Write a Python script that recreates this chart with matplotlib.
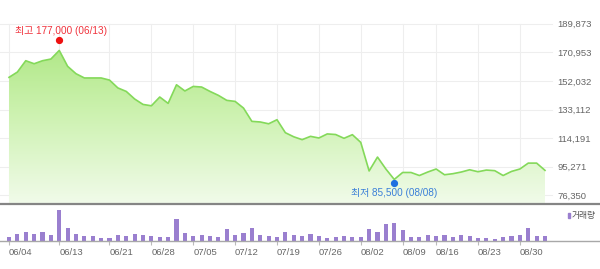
import matplotlib
matplotlib.use("Agg")
import matplotlib.pyplot as plt
import numpy as np
from matplotlib.patches import Polygon, Rectangle
from matplotlib.colors import LinearSegmentedColormap
from matplotlib.transforms import offset_copy

plt.rcParams['font.family'] = ['Liberation Sans', 'Noto Sans CJK KR']

# ---------------- data ----------------
dates = ['06/04', '06/05', '06/07', '06/10', '06/11', '06/12', '06/13', '06/14',
         '06/17', '06/18', '06/19', '06/20', '06/21', '06/24', '06/25', '06/26',
         '06/27', '06/28', '07/01', '07/02', '07/03', '07/04', '07/05', '07/08',
         '07/09', '07/10', '07/11', '07/12', '07/15', '07/16', '07/17', '07/18',
         '07/19', '07/22', '07/23', '07/24', '07/25', '07/26', '07/29', '07/30',
         '07/31', '08/01', '08/02', '08/05', '08/06', '08/07', '08/08', '08/09',
         '08/12', '08/13', '08/14', '08/16', '08/19', '08/20', '08/21', '08/22',
         '08/23', '08/26', '08/27', '08/28', '08/29', '08/30', '09/02', '09/03',
         '09/04']

close = [154400, 157900, 165400, 163400, 165400, 166500, 172200, 161700,
         156800, 154000, 154000, 154000, 152600, 147400, 145100, 140100,
         136500, 135600, 141400, 137200, 149500, 145400, 148400, 148000,
         145100, 142500, 139200, 138500, 134100, 125300, 124900, 123700,
         126400, 117800, 115100, 113200, 115400, 114300, 117000, 116600,
         114100, 116500, 111400, 92500, 101700, 93800, 86900, 91500,
         91500, 89500, 91800, 93800, 90000, 90700, 91800, 93300,
         92000, 93100, 92700, 89500, 92200, 93800, 97700, 97700,
         92900]

volume = [47, 73, 90, 73, 90, 67, 313, 133,
          73, 57, 57, 37, 37, 63, 57, 73,
          67, 57, 47, 47, 220, 80, 55, 63,
          53, 47, 123, 67, 80, 133, 67, 53,
          47, 90, 67, 53, 70, 52, 30, 48,
          52, 45, 45, 122, 97, 175, 185, 113,
          40, 40, 60, 50, 60, 40, 60, 50,
          33, 33, 23, 43, 53, 60, 137, 53,
          53]

tick_dates = ['06/04', '06/13', '06/21', '06/28', '07/05', '07/12', '07/19',
              '07/26', '08/02', '08/09', '08/16', '08/23', '08/30']
price_ticks = [76350, 95271, 114191, 133112, 152032, 170953, 189873]

high_price, high_date = 177000, '06/13'
low_price, low_date = 85500, '08/08'
volume_label = '거래량'

# ---------------- layout ----------------
W, H = 600, 269
fig = plt.figure(figsize=(W / 100, H / 100), dpi=100)

step = 8.375          # px per trading day
x_first = 9           # px of first point
y_top_px, y_sep_px, y_base_px = 23.7, 204, 241.3
px_per_unit = (195.7 - 24.0) / (price_ticks[-1] - price_ticks[0])
ymax = price_ticks[-1]
ymin = ymax - (y_sep_px - y_top_px) / px_per_unit

xs = np.arange(len(dates))
tick_idx = [dates.index(d) for d in tick_dates]
xl = -x_first / step

# price axes
ax = fig.add_axes([0, 1 - y_sep_px / H, 552 / W, (y_sep_px - y_top_px) / H])
ax.set_xlim(xl, (552 - x_first) / step)
ax.set_ylim(ymin, ymax)
for s in ax.spines.values():
    s.set_visible(False)
ax.set_xticks(tick_idx)
ax.set_xticklabels([])
ax.yaxis.tick_right()
ax.set_yticks(price_ticks)
ax.set_yticklabels([f'{v:,}' for v in price_ticks])
ax.tick_params(axis='y', length=0, pad=3.8, labelsize=6.8, labelcolor='#666666')
ax.tick_params(axis='x', length=0)
ax.grid(True, color='#eeeeee', lw=0.8, clip_on=False)
ax.set_axisbelow(True)

# gradient fill under line
verts = [(xs[0], ymin)] + list(zip(xs, close)) + [(xs[-1], ymin)]
poly = Polygon(verts, closed=True, facecolor='none', edgecolor='none')
ax.add_patch(poly)
cmap = LinearSegmentedColormap.from_list('g', ['#f1fbea', '#cdf2b0', '#a6e479'])
grad = np.linspace(0, 1, 256).reshape(-1, 1)
im = ax.imshow(grad, extent=[xs[0], xs[-1], ymin, ymax], origin='lower',
               aspect='auto', cmap=cmap, zorder=1)
im.set_clip_path(poly)
ax.plot(xs, close, color='#84d95a', lw=1.2, zorder=3)

# high / low markers
hi = dates.index(high_date)
lo = dates.index(low_date)
ax.plot(hi, high_price, 'o', color='#ee1111', ms=4.2, zorder=4, clip_on=False,
        transform=offset_copy(ax.transData, fig, x=0, y=3, units='dots'))
ax.text(hi, high_price, f'최고 {high_price:,} ({high_date})', color='#f0323c',
        fontsize=7.2, ha='center', va='center',
        transform=offset_copy(ax.transData, fig, x=2, y=12, units='dots'))
ax.plot(lo, low_price, 'o', color='#1f6fe0', ms=4.2, zorder=4, clip_on=False,
        transform=offset_copy(ax.transData, fig, x=0, y=-1.7, units='dots'))
ax.text(lo, low_price, f'최저 {low_price:,} ({low_date})', color='#3a7fd8',
        fontsize=7.2, ha='center', va='center',
        transform=offset_copy(ax.transData, fig, x=0, y=-11, units='dots'))

# volume axes
vax = fig.add_axes([0, 1 - y_base_px / H, 1, (y_base_px - y_sep_px) / H])
vax.set_xlim(xl, (W - x_first) / step)
vmax = max(volume) * (y_base_px - y_sep_px) / 31.3
vax.set_ylim(0, vmax)
vax.bar(xs, volume, width=0.5, color='#9a7fcf', zorder=2)
vax.spines['left'].set_visible(False)
vax.spines['right'].set_visible(False)
vax.spines['top'].set_color('#858585')
vax.spines['top'].set_linewidth(1.6)
vax.spines['bottom'].set_color('#a8a8a8')
vax.spines['bottom'].set_linewidth(1.0)
vax.set_yticks([])
vax.set_xticks(tick_idx)
vax.set_xticklabels(tick_dates)
vax.tick_params(axis='x', length=2.6, color='#bbbbbb', pad=2.5,
                labelsize=6.8, labelcolor='#666666')
for lab in vax.get_xticklabels():
    lab.set_ha('left')
vax.patch.set_alpha(0)

# volume legend
fig.patches.append(Rectangle((568 / W, 1 - 218 / H), 2 / W, 5.5 / H,
                             transform=fig.transFigure, color='#9a7fcf'))
fig.text(572 / W, 1 - 215.3 / H, volume_label, fontsize=6.3, color='#555555',
         va='center', ha='left')

fig.savefig('out.png', dpi=100)
